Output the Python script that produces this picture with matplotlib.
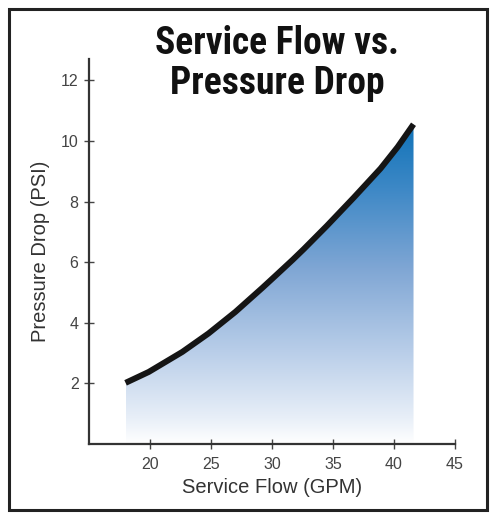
import numpy as np
import matplotlib
matplotlib.use("Agg")
import matplotlib.pyplot as plt
from matplotlib.colors import LinearSegmentedColormap
from matplotlib.patches import Rectangle

# values
flow_gpm = [18.0, 19.9, 22.65, 24.8, 27.0, 29.2, 30.2, 31.7, 32.6, 34.5, 36.7, 38.9, 40.3, 41.6]
pressure_psi = [2.02, 2.38, 3.04, 3.65, 4.36, 5.15, 5.52, 6.08, 6.43, 7.2, 8.13, 9.09, 9.8, 10.55]
x_ticks = [20, 25, 30, 35, 40, 45]
y_ticks = [2, 4, 6, 8, 10, 12]

plt.rcParams['font.family'] = ['Liberation Sans', 'DejaVu Sans']

fig = plt.figure(figsize=(4.97, 5.20), dpi=100)
ax = fig.add_axes([0.179, 0.146, 0.7365, 0.7404])

# gradient fill under the curve: dark blue at top, white at bottom
grad_cmap = LinearSegmentedColormap.from_list(
    "flow", [(0.0, "#ffffff"), (0.08, "#e8eff8"), (0.3, "#b6cce8"),
             (0.55, "#7fa6d4"), (0.8, "#3d88c6"), (1.0, "#1173b8")])
poly = ax.fill_between(flow_gpm, pressure_psi, 0, color='none', lw=0)
grad = np.linspace(0, 1, 256).reshape(-1, 1)
img = ax.imshow(grad, cmap=grad_cmap, origin='lower', aspect='auto',
                extent=[flow_gpm[0], flow_gpm[-1], 0, max(pressure_psi)],
                zorder=1)
img.set_clip_path(poly.get_paths()[0], transform=ax.transData)

ax.plot(flow_gpm, pressure_psi, color='#151515', lw=4.3,
        solid_capstyle='butt', solid_joinstyle='round', zorder=3)

ax.set_xlim(15, 45)
ax.set_ylim(0, 12.7)
ax.set_xticks(x_ticks)
ax.set_yticks(y_ticks)
for side in ['top', 'right']:
    ax.spines[side].set_visible(False)
for side in ['left', 'bottom']:
    ax.spines[side].set_color('#333333')
    ax.spines[side].set_linewidth(1.6)
ax.tick_params(axis='both', direction='inout', length=7, width=1,
               color='#444444', labelcolor='#444444', labelsize=11.5)
ax.tick_params(axis='x', pad=6)
ax.tick_params(axis='y', pad=4)

ax.set_xlabel("Service Flow (GPM)", fontsize=14.5, color='#333333', labelpad=4)
ax.set_ylabel("Pressure Drop (PSI)", fontsize=14.5, color='#333333', labelpad=8)

fig.text(0.557, 0.878, "Service Flow vs.\nPressure Drop", ha='center', va='center',
         fontsize=27, fontweight='bold', linespacing=1.1,
         family=['Roboto Condensed', 'DejaVu Sans'], color='#111111')

# frame around the whole figure
fig.patches.append(Rectangle((0.018, 0.019), 0.962, 0.964, transform=fig.transFigure,
                             fill=False, edgecolor='#222222', lw=2.2))

fig.savefig("out.png", dpi=100)
